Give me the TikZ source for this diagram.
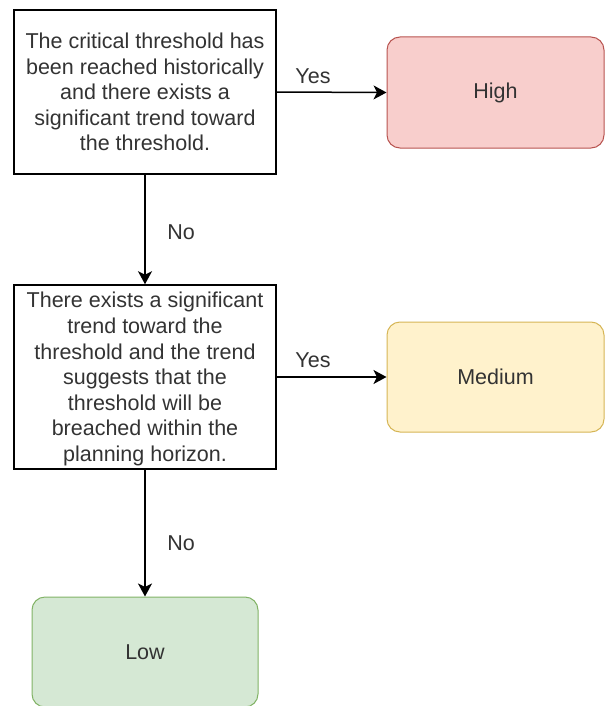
\documentclass[tikz,border=0pt]{standalone}
\usepackage{fontspec}
\setmainfont{Liberation Sans}
\usetikzlibrary{arrows.meta}
\definecolor{txt}{HTML}{333333}
\definecolor{redfill}{HTML}{F8CECC}\definecolor{redline}{HTML}{B85450}
\definecolor{yelfill}{HTML}{FFF2CC}\definecolor{yelline}{HTML}{D6B656}
\definecolor{grnfill}{HTML}{D5E8D4}\definecolor{grnline}{HTML}{82B366}
\tikzset{
  base/.style={inner sep=0pt, align=center, text=txt,
    font=\fontsize{21.5}{25.6}\selectfont},
  question/.style={base, draw=black, line width=1.5pt, fill=white,
    minimum width=262pt},
  outcome/.style={base, rounded corners=13pt, line width=1pt,
    minimum width=217pt, minimum height=111pt},
  flow/.style={line width=1.5pt, draw=black,
    -{Stealth[length=13pt,width=14pt,inset=3.5pt]}},
  lbl/.style={text=txt, font=\fontsize{21.5}{25.6}\selectfont, inner sep=0pt}
}
\begin{document}
\begin{tikzpicture}[x=1pt,y=-1pt]
\useasboundingbox (0,0) rectangle (605,706);
\fill[white] (0,0) rectangle (605,706);

\node[question, minimum height=164pt, text depth=-8pt] (q1) at (145,92)
  {The critical threshold has\\been reached historically\\and there exists a\\significant trend toward\\the threshold.};
\node[question, minimum height=184pt, text depth=-6pt] (q2) at (145,377)
  {There exists a significant\\trend toward the\\threshold and the trend\\suggests that the\\threshold will be\\breached within the\\planning horizon.};

\node[outcome, fill=redfill, draw=redline] (high) at (495.5,92.5) {High};
\node[outcome, fill=yelfill, draw=yelline, minimum height=110pt] (medium) at (495.5,377) {Medium};
\node[outcome, fill=grnfill, draw=grnline, minimum width=226pt, minimum height=110pt] (low) at (145,652) {Low};

\draw[flow] (q1.east) -- (high.west);
\draw[flow] (q2.east) -- (medium.west);
\draw[flow] (q1.south) -- (q2.north);
\draw[flow] (q2.south) -- (low.north);

\node[lbl] (yes1) at (313,76) {Yes};
\node[lbl] (yes2) at (313,360) {Yes};
\node[lbl] (no1) at (181,232) {No};
\node[lbl] (no2) at (181,543) {No};
\end{tikzpicture}
\end{document}
